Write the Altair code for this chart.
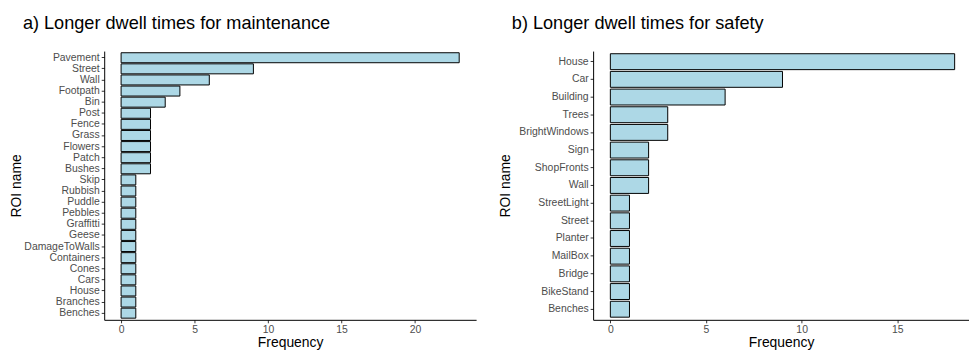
import altair as alt
import pandas as pd

# Panel a) maintenance
maint_names = ["Pavement", "Street", "Wall", "Footpath", "Bin", "Post", "Fence", "Grass",
               "Flowers", "Patch", "Bushes", "Skip", "Rubbish", "Puddle", "Pebbles",
               "Graffitti", "Geese", "DamageToWalls", "Containers", "Cones", "Cars",
               "House", "Branches", "Benches"]
maint_freq = [23, 9, 6, 4, 3, 2, 2, 2, 2, 2, 2, 1, 1, 1, 1, 1, 1, 1, 1, 1, 1, 1, 1, 1]

# Panel b) safety
safety_names = ["House", "Car", "Building", "Trees", "BrightWindows", "Sign", "ShopFronts",
                "Wall", "StreetLight", "Street", "Planter", "MailBox", "Bridge",
                "BikeStand", "Benches"]
safety_freq = [18, 9, 6, 3, 3, 2, 2, 2, 1, 1, 1, 1, 1, 1, 1]

x_ticks_a = [0, 5, 10, 15, 20]
x_ticks_b = [0, 5, 10, 15]

FONT = "Liberation Sans"


def panel(names, freqs, title, domain, ticks, width):
    df = pd.DataFrame({"name": names, "freq": freqs})
    return (
        alt.Chart(df)
        .mark_bar(fill="#ADD8E6", stroke="black", strokeWidth=1)
        .encode(
            x=alt.X(
                "freq:Q",
                scale=alt.Scale(domain=domain, nice=False, zero=False),
                axis=alt.Axis(values=ticks, title="Frequency", grid=False),
            ),
            x2=alt.datum(0),
            y=alt.Y(
                "name:N",
                sort=names,
                scale=alt.Scale(paddingInner=0.1, paddingOuter=0.15),
                axis=alt.Axis(title="ROI name", titleX=-88, titleY=135.5,
                              titleBaseline="middle", titleAlign="center"),
            ),
        )
        .properties(
            width=width,
            height=271,
            title=alt.TitleParams(title, anchor="start", frame="group", dx=-82,
                                  baseline="alphabetic", offset=4, fontSize=18.3,
                                  font=FONT, fontWeight="normal", color="black"),
        )
    )


left = panel(maint_names, maint_freq, "a) Longer dwell times for maintenance",
             [-1.15, 24.15], x_ticks_a, 375)
right = panel(safety_names, safety_freq, "b) Longer dwell times for safety",
              [-0.9, 18.75], x_ticks_b, 379)

chart = (
    alt.hconcat(left, right, spacing=118, bounds="flush")
    .properties(padding={"left": 2, "top": 4, "right": 0, "bottom": 0})
    .configure_view(stroke=None)
    .configure_axis(
        domainColor="black", domainWidth=1, tickColor="#333333", tickSize=3,
        labelColor="#4D4D4D", labelFont=FONT, labelFontSize=10.5, labelPadding=2,
        titleFont=FONT, titleFontSize=14, titleFontWeight="normal", titleColor="black",
    )
    .configure_axisX(titlePadding=0)
)

chart.save("out.html", embed_options={"renderer": "svg", "actions": False})
